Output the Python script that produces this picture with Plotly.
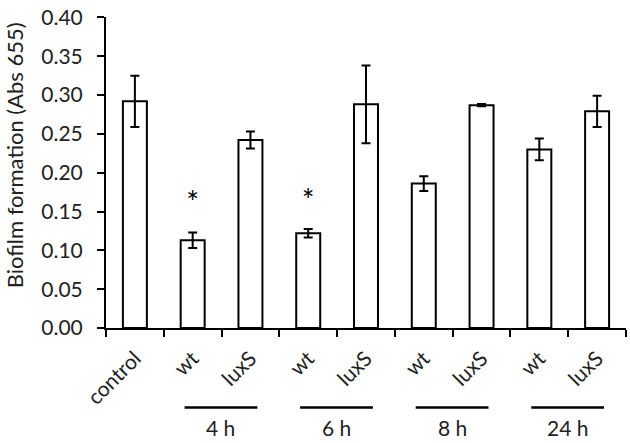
import plotly.graph_objects as go

categories = ["control", "wt 4h", "luxS 4h", "wt 6h", "luxS 6h", "wt 8h", "luxS 8h", "wt 24h", "luxS 24h"]
tick_labels = ["control", "wt", "luxS", "wt", "luxS", "wt", "luxS", "wt", "luxS"]
biofilm = [0.292, 0.113, 0.242, 0.122, 0.288, 0.186, 0.287, 0.230, 0.279]
errors = [0.033, 0.010, 0.011, 0.0055, 0.050, 0.0095, 0.0015, 0.014, 0.020]
star_bars = ["wt 4h", "wt 6h"]
star_y = [0.158, 0.160]
groups = ["4 h", "6 h", "8 h", "24 h"]
group_first = [1, 3, 5, 7]

FONT = "Lato, 'Open Sans', sans-serif"

fig = go.Figure()
fig.add_trace(go.Bar(
    x=categories, y=biofilm,
    marker=dict(color="white", line=dict(color="black", width=2)),
    width=0.415,
    error_y=dict(type="data", array=errors, color="black", thickness=2, width=4.5),
    showlegend=False,
))
fig.add_trace(go.Scatter(
    x=star_bars, y=star_y, mode="text", text=["*"] * len(star_bars),
    textfont=dict(size=30, color="black", family=FONT), showlegend=False,
))

# group underlines and labels below the rotated tick labels
for g, i in zip(groups, group_first):
    fig.add_shape(type="line", xref="x", yref="paper",
                  x0=i - 0.14, x1=i + 1.12, y0=-0.2555, y1=-0.2555,
                  line=dict(color="black", width=2.5))
    fig.add_annotation(x=i + 0.49, y=-0.321, xref="x", yref="paper",
                       text=g, showarrow=False, yanchor="middle",
                       font=dict(size=21, color="#222", family=FONT))

# y title as an annotation: the original sits a bit above the axis centre
fig.add_annotation(x=-0.177, y=0.555, xref="paper", yref="paper",
                   text="Biofilm formation (Abs 655)", textangle=-90,
                   showarrow=False, xanchor="center", yanchor="middle",
                   font=dict(size=22, color="#222", family=FONT))

fig.update_xaxes(
    type="category", range=[-0.5, 8.5],
    tickmode="array", tickvals=categories, ticktext=tick_labels,
    tickangle=-45, tickson="boundaries", ticks="outside", ticklen=7,
    tickwidth=2, tickcolor="black", ticklabelstandoff=8,
    showline=True, linecolor="black", linewidth=2,
    tickfont=dict(size=21, color="#222", family=FONT),
    showgrid=False, zeroline=False,
)
fig.update_yaxes(
    range=[0, 0.4005], tickvals=[0, 0.05, 0.10, 0.15, 0.20, 0.25, 0.30, 0.35, 0.40],
    tickformat=".2f", ticks="outside", ticklen=7, tickwidth=2, tickcolor="black",
    ticklabeloverflow="allow", ticklabelstandoff=10,
    showline=True, linecolor="black", linewidth=2,
    tickfont=dict(size=21, color="#222", family=FONT),
    showgrid=False, zeroline=False,
)
fig.update_layout(
    width=630, height=443,
    margin=dict(l=106, r=4, t=7, b=115),
    plot_bgcolor="white", paper_bgcolor="white",
)
# drop the default 8px page margin so the figure sits at the window's corner
fig.write_html("out.html", config={"displayModeBar": False},
               post_script="document.body.style.margin='0';")
